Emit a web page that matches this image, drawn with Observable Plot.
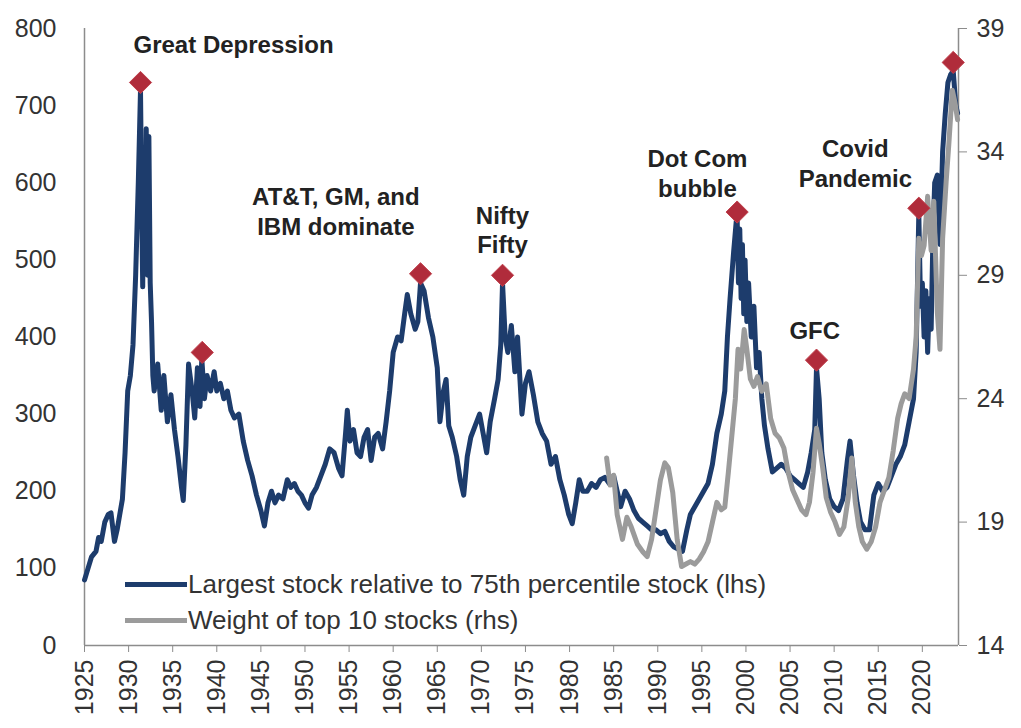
<!DOCTYPE html>
<html>
<head>
<meta charset="utf-8">
<script src="https://cdn.jsdelivr.net/npm/d3@7"></script>
<script src="https://cdn.jsdelivr.net/npm/@observablehq/plot@0.6"></script>
<style>
  html, body { margin: 0; padding: 0; background: #fff; }
  #wrap { position: relative; width: 1021px; height: 728px; font-family: "Liberation Sans", Arial, sans-serif; }
  #legend { position: absolute; left: 125px; top: 566px; font-size: 26px; color: #333; line-height: 36px; }
  #legend .row { display: flex; align-items: center; white-space: nowrap; }
  #legend .sw { width: 62px; height: 5px; margin-right: 1px; }
</style>
</head>
<body>
<div id="wrap"><div id="legend"></div></div>
<script>
// ---- data ----
const blueYears = [1925.0,1925.4,1925.8,1926.3,1926.6,1926.9,1927.3,1927.7,1928.0,1928.4,1928.7,1929.0,1929.3,1929.6,1929.9,1930.2,1930.5,1930.8,1931.1,1931.35,1931.5,1931.6,1931.75,1931.9,1932.0,1932.15,1932.3,1932.45,1932.6,1932.75,1932.9,1933.3,1933.7,1934.0,1934.4,1934.8,1935.2,1935.6,1936.0,1936.2,1936.5,1936.8,1937.2,1937.5,1937.8,1938.1,1938.3,1938.6,1938.9,1939.3,1939.7,1940.0,1940.4,1940.8,1941.2,1941.6,1942.0,1942.5,1943.0,1943.5,1944.0,1944.5,1945.0,1945.4,1945.8,1946.2,1946.6,1947.0,1947.5,1948.0,1948.4,1948.8,1949.2,1949.6,1950.0,1950.4,1950.8,1951.3,1951.8,1952.3,1952.8,1953.3,1953.8,1954.2,1954.6,1954.8,1955.1,1955.5,1955.9,1956.3,1956.7,1957.1,1957.5,1957.9,1958.3,1958.8,1959.2,1959.6,1960.0,1960.5,1960.9,1961.3,1961.6,1962.0,1962.5,1962.8,1963.1,1963.5,1964.0,1964.5,1965.0,1965.3,1965.7,1966.0,1966.3,1966.7,1967.2,1967.6,1968.0,1968.4,1968.8,1969.3,1969.8,1970.2,1970.6,1971.0,1971.5,1971.9,1972.2,1972.4,1972.7,1973.0,1973.4,1973.8,1974.1,1974.6,1975.0,1975.4,1975.9,1976.4,1976.9,1977.4,1977.9,1978.4,1978.9,1979.4,1979.9,1980.3,1980.7,1981.1,1981.5,1982.0,1982.5,1983.0,1983.5,1984.0,1984.5,1985.0,1985.5,1985.8,1986.3,1986.8,1987.3,1987.8,1988.3,1988.8,1989.3,1989.8,1990.3,1990.8,1991.3,1991.8,1992.3,1992.8,1993.3,1993.7,1994.2,1994.7,1995.2,1995.7,1996.2,1996.7,1997.2,1997.6,1997.9,1998.2,1998.6,1998.9,1999.0,1999.15,1999.3,1999.45,1999.6,1999.75,1999.9,2000.1,2000.3,2000.6,2000.9,2001.2,2001.5,2001.8,2002.1,2002.5,2003.0,2003.5,2004.0,2004.5,2005.0,2005.5,2006.0,2006.5,2007.0,2007.4,2007.8,2008.0,2008.3,2008.6,2009.0,2009.5,2010.0,2010.5,2011.0,2011.5,2011.8,2012.2,2012.6,2013.0,2013.5,2014.0,2014.5,2015.0,2015.5,2016.0,2016.5,2017.0,2017.5,2018.0,2018.5,2019.0,2019.3,2019.6,2019.8,2020.0,2020.2,2020.4,2020.6,2020.8,2021.0,2021.2,2021.4,2021.7,2022.0,2022.3,2022.6,2022.9,2023.2,2023.5,2023.8,2024.0];
const blueValues = [85,100,115,122,140,135,160,170,172,135,150,170,190,250,330,350,390,480,600,720,560,465,640,520,670,480,660,470,420,350,330,365,305,350,290,325,280,245,205,188,260,365,330,295,360,310,372,320,350,330,355,330,340,320,330,305,295,300,265,240,220,195,175,155,185,200,185,195,190,215,205,210,200,195,185,178,195,205,220,235,255,250,230,220,275,305,265,280,250,245,270,280,240,270,275,255,290,330,380,400,395,430,455,430,410,420,470,460,425,400,360,290,330,345,285,270,245,215,195,245,270,285,300,275,250,290,320,345,390,470,400,380,415,355,400,300,340,355,325,290,275,265,235,245,215,195,170,158,185,215,200,200,210,205,215,218,210,220,195,180,200,190,175,165,160,155,150,150,145,148,135,128,125,122,150,170,180,190,200,210,235,275,300,330,400,450,510,550,555,470,540,450,520,430,500,420,470,400,440,360,380,320,285,255,225,230,235,230,220,215,210,205,225,250,280,360,320,250,215,190,180,175,190,240,265,220,185,160,150,150,195,210,200,205,220,235,245,260,290,320,380,560,440,470,400,460,380,450,410,530,600,610,520,640,690,730,740,745,700,690];

const grayYears = [1984.2,1984.6,1985.0,1985.4,1986.0,1986.5,1987.0,1987.7,1988.3,1988.8,1989.3,1989.8,1990.3,1990.8,1991.2,1991.7,1992.2,1992.7,1993.2,1993.7,1994.2,1994.7,1995.2,1995.7,1996.2,1996.7,1997.2,1997.6,1998.0,1998.4,1998.8,1999.1,1999.4,1999.8,2000.1,2000.5,2000.9,2001.3,2001.8,2002.3,2002.8,2003.3,2003.8,2004.3,2004.8,2005.3,2005.8,2006.3,2006.8,2007.2,2007.6,2008.0,2008.3,2008.7,2009.1,2009.6,2010.1,2010.6,2011.1,2011.6,2012.0,2012.4,2012.8,2013.2,2013.7,2014.2,2014.7,2015.2,2015.7,2016.2,2016.7,2017.2,2017.6,2018.0,2018.5,2019.0,2019.3,2019.6,2019.9,2020.2,2020.6,2021.0,2021.3,2021.7,2022.0,2022.3,2022.7,2023.0,2023.4,2023.7,2024.0];
const grayValues = [21.6,20.5,20.9,19.3,18.3,19.2,18.8,18.1,17.8,17.6,18.3,19.5,20.7,21.4,21.2,20.2,18.3,17.2,17.3,17.4,17.3,17.5,17.8,18.2,19.0,19.8,19.5,19.6,21.0,22.5,24.0,26.0,25.2,26.8,26.0,24.8,24.5,24.9,24.3,24.6,23.2,22.6,22.4,22.0,21.0,20.3,19.9,19.5,19.3,19.8,21.0,22.8,22.2,21.2,20.0,19.4,19.0,18.5,18.8,20.0,21.6,19.8,18.8,18.2,17.9,18.2,18.8,19.8,20.3,20.8,21.9,23.2,23.8,24.2,24.0,25.2,26.5,30.5,29.8,30.2,32.2,30.0,32.0,27.5,26.0,30.5,32.8,34.3,36.5,36.0,35.3];

const markerYears = [1931.35, 1938.35, 1963.1, 1972.4, 1999.0, 2008.0, 2019.6, 2023.5];
const markerValues = [730, 380, 482, 480, 562, 370, 567, 756];

const noteTexts = ["Great Depression", "AT&T, GM, and\nIBM dominate", "Nifty\nFifty", "Dot Com\nbubble", "GFC", "Covid\nPandemic"];
const noteYears = [1941.9, 1953.5, 1972.4, 1994.5, 2007.8, 2012.4];
const noteValues = [781, 564, 540, 613, 409, 626];

const xTicks = d3.range(1925, 2021, 5);
const leftTicks = [0, 100, 200, 300, 400, 500, 600, 700, 800];
const rightTicks = [14, 19, 24, 29, 34, 39];
const seriesNames = ["Largest stock relative to 75th percentile stock (lhs)", "Weight of top 10 stocks (rhs)"];
const seriesColors = ["#1d3c6c", "#9b9b9b"];

// ---- derived tables ----
const rhsLo = 14, rhsHi = 39, lhsHi = 800;
const toL = v => (v - rhsLo) / (rhsHi - rhsLo) * lhsHi;
const fromL = v => Math.round(v / lhsHi * (rhsHi - rhsLo) + rhsLo);
const blue = blueYears.map((x, i) => ({x, y: blueValues[i]}));
const gray = grayYears.map((x, i) => ({x, y: toL(grayValues[i])}));
const markers = markerYears.map((x, i) => ({x, y: markerValues[i]}));
const notes = noteTexts.map((t, i) => ({t, x: noteYears[i], y: noteValues[i]}));
const xDomain = [1925, 2024.1];

const font = "'Liberation Sans', Arial, sans-serif";
const chart = Plot.plot({
  width: 1021,
  height: 728,
  marginLeft: 84,
  marginRight: 63,
  marginTop: 28,
  marginBottom: 83,
  style: {fontFamily: font, background: "white", overflow: "visible"},
  x: {domain: xDomain, label: null},
  y: {domain: [0, lhsHi], label: null},
  marks: [
    Plot.ruleX([xDomain[0]], {stroke: "#8c8c8c", strokeWidth: 1.5}),
    Plot.ruleX([xDomain[1]], {stroke: "#8c8c8c", strokeWidth: 1.5}),
    Plot.ruleY([0], {stroke: "#8c8c8c", strokeWidth: 1.5}),
    Plot.axisX(xTicks, {tickFormat: d => String(d), tickRotate: -90, tickSize: 7, tickPadding: 7, fontSize: 25, stroke: "#8c8c8c", fill: "#333", label: null}),
    Plot.axisY(leftTicks, {anchor: "left", tickSize: 0, tickPadding: 28, fontSize: 25, fill: "#333", label: null}),
    Plot.axisY(rightTicks.map(toL), {anchor: "right", tickFormat: d => String(fromL(d)), tickSize: 8, tickPadding: 10, fontSize: 25, stroke: "#8c8c8c", fill: "#333", label: null}),
    Plot.line(blue, {x: "x", y: "y", stroke: seriesColors[0], strokeWidth: 5, strokeLinejoin: "round"}),
    Plot.line(gray, {x: "x", y: "y", stroke: seriesColors[1], strokeWidth: 5, strokeLinejoin: "round"}),
    Plot.dot(markers, {x: "x", y: "y", symbol: "diamond2", r: 10, fill: "#b02c3b", stroke: "#c0404c", strokeWidth: 1}),
    Plot.text(notes, {x: "x", y: "y", text: "t", fontSize: 24, fontWeight: "bold", fill: "#222", lineHeight: 1.22, textAnchor: "middle", fontFamily: font, letterSpacing: "0.8px"})
  ]
});
document.getElementById("wrap").prepend(chart);

const legend = document.getElementById("legend");
seriesNames.forEach((name, i) => {
  const row = document.createElement("div");
  row.className = "row";
  const sw = document.createElement("div");
  sw.className = "sw";
  sw.style.background = seriesColors[i];
  const tx = document.createElement("span");
  tx.textContent = name;
  row.append(sw, tx);
  legend.append(row);
});
chart.style.position = "absolute";
chart.style.left = "0";
chart.style.top = "0";
legend.style.zIndex = 2;
</script>
</body>
</html>
